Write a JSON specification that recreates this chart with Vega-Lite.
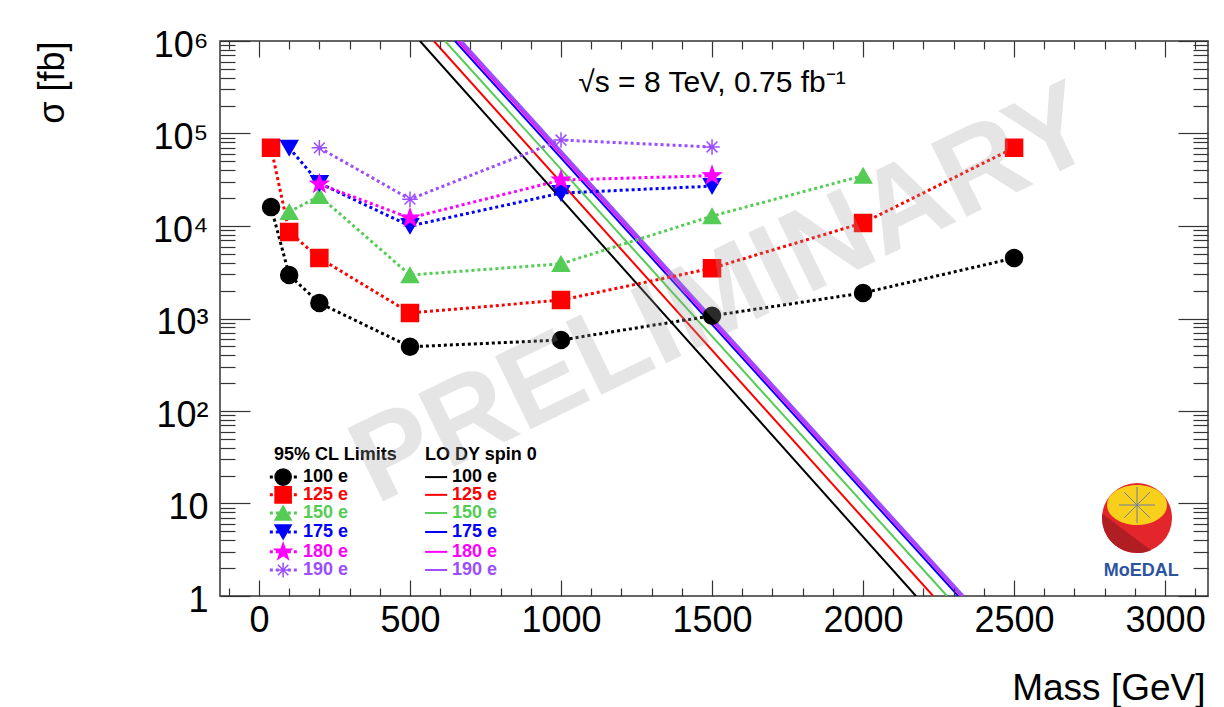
{
  "$schema": "https://vega.github.io/schema/vega-lite/v6.json",
  "width": 988,
  "height": 555,
  "autosize": {"type": "none"},
  "padding": {"left": 220, "top": 41, "right": 16, "bottom": 111},
  "background": "white",
  "config": {
    "view": {"stroke": "#333333", "strokeWidth": 1.5},
    "font": "Liberation Sans",
    "axis": {"labelFont": "Liberation Sans", "titleFont": "Liberation Sans", "tickColor": "#333333", "tickWidth": 1.2, "grid": false, "domain": false, "labelColor": "black", "titleColor": "black"}
  },
  "datasets": {
    "limits": [
      {"series": "100 e", "m": 40, "s": 16000}, {"series": "100 e", "m": 100, "s": 2950}, {"series": "100 e", "m": 200, "s": 1470}, {"series": "100 e", "m": 500, "s": 495}, {"series": "100 e", "m": 1000, "s": 585}, {"series": "100 e", "m": 1500, "s": 1070}, {"series": "100 e", "m": 2000, "s": 1890}, {"series": "100 e", "m": 2500, "s": 4500},
      {"series": "125 e", "m": 40, "s": 70000}, {"series": "125 e", "m": 100, "s": 8600}, {"series": "125 e", "m": 200, "s": 4500}, {"series": "125 e", "m": 500, "s": 1150}, {"series": "125 e", "m": 1000, "s": 1580}, {"series": "125 e", "m": 1500, "s": 3500}, {"series": "125 e", "m": 2000, "s": 10800}, {"series": "125 e", "m": 2500, "s": 70000},
      {"series": "150 e", "m": 100, "s": 14200}, {"series": "150 e", "m": 200, "s": 21100}, {"series": "150 e", "m": 500, "s": 2950}, {"series": "150 e", "m": 1000, "s": 3900}, {"series": "150 e", "m": 1500, "s": 12800}, {"series": "150 e", "m": 2000, "s": 35000},
      {"series": "175 e", "m": 100, "s": 70000}, {"series": "175 e", "m": 200, "s": 29000}, {"series": "175 e", "m": 500, "s": 10000}, {"series": "175 e", "m": 1000, "s": 22700}, {"series": "175 e", "m": 1500, "s": 27000},
      {"series": "180 e", "m": 200, "s": 28400}, {"series": "180 e", "m": 500, "s": 12200}, {"series": "180 e", "m": 1000, "s": 31400}, {"series": "180 e", "m": 1500, "s": 35000},
      {"series": "190 e", "m": 200, "s": 70000}, {"series": "190 e", "m": 500, "s": 19500}, {"series": "190 e", "m": 1000, "s": 85000}, {"series": "190 e", "m": 1500, "s": 71500}
    ],
    "dy": [
      {"series": "100 e", "m": 533, "s": 1000000}, {"series": "100 e", "m": 2175, "s": 1},
      {"series": "125 e", "m": 579, "s": 1000000}, {"series": "125 e", "m": 2232, "s": 1},
      {"series": "150 e", "m": 616, "s": 1000000}, {"series": "150 e", "m": 2278, "s": 1},
      {"series": "175 e", "m": 649, "s": 1000000}, {"series": "175 e", "m": 2315, "s": 1},
      {"series": "180 e", "m": 659, "s": 1000000}, {"series": "180 e", "m": 2325, "s": 1},
      {"series": "190 e", "m": 669, "s": 1000000}, {"series": "190 e", "m": 2331, "s": 1}
    ],
    "legend": [
      {"series": "100 e", "s": 19.3},
      {"series": "125 e", "s": 12.4},
      {"series": "150 e", "s": 7.9},
      {"series": "175 e", "s": 4.92},
      {"series": "180 e", "s": 3.0},
      {"series": "190 e", "s": 1.91}
    ]
  },
  "resolve": {"axis": {"x": "independent", "y": "independent"}},
  "layer": [
    {
      "data": {"values": [{"m": 0, "s": 1}]},
      "mark": {"type": "point", "opacity": 0},
      "encoding": {
        "x": {"field": "m", "type": "quantitative", "scale": {"domain": [-129, 3142], "nice": false, "zero": false},
          "axis": {"orient": "bottom", "values": [0, 500, 1000, 1500, 2000, 2500, 3000], "format": "d", "ticks": false, "labelFontSize": 36, "labelPadding": 7, "labelFlush": false, "labelOverlap": false, "title": "Mass [GeV]", "titleFontSize": 37, "titleFontWeight": "normal", "titleX": 985, "titleY": 92, "titleAlign": "right", "titleBaseline": "middle", "titleAngle": 0}},
        "y": {"field": "s", "type": "quantitative", "scale": {"type": "log", "domain": [1, 1000000], "nice": false},
          "axis": {"orient": "left", "values": [1, 10, 100, 1000, 10000, 100000, 1000000], "ticks": false, "labelFontSize": 36, "labelPadding": 12, "labelOffset": 4, "labelFlush": false, "labelOverlap": false, "labelExpr": "datum.value == 1 ? '1' : datum.value == 10 ? '10' : datum.value == 100 ? '10²' : datum.value == 1000 ? '10³' : datum.value == 10000 ? '10⁴' : datum.value == 100000 ? '10⁵' : '10⁶'", "title": "σ [fb]", "titleFontSize": 36, "titleFontWeight": "normal", "titleAngle": 270, "titleX": -168, "titleY": 0, "titleAlign": "right", "titleBaseline": "middle"}}
      }
    },
    {
      "data": {"values": [{"m": 0, "s": 1}]},
      "mark": {"type": "point", "opacity": 0},
      "encoding": {
        "x": {"field": "m", "type": "quantitative", "scale": {"domain": [-129, 3142], "nice": false, "zero": false},
          "axis": {"orient": "bottom", "values": [0, 500, 1000, 1500, 2000, 2500, 3000], "labels": false, "ticks": true, "tickSize": -16, "title": null, "zindex": 1}},
        "y": {"field": "s", "type": "quantitative", "scale": {"type": "log", "domain": [1, 1000000], "nice": false},
          "axis": {"orient": "left", "values": [1, 10, 100, 1000, 10000, 100000, 1000000], "labels": false, "ticks": true, "tickSize": -30, "title": null, "zindex": 1}}
      }
    },
    {
      "data": {"values": [{"m": 0, "s": 1}]},
      "mark": {"type": "point", "opacity": 0},
      "encoding": {
        "x": {"field": "m", "type": "quantitative", "scale": {"domain": [-129, 3142], "nice": false, "zero": false},
          "axis": {"orient": "bottom", "values": [-100, 100, 200, 300, 400, 600, 700, 800, 900, 1100, 1200, 1300, 1400, 1600, 1700, 1800, 1900, 2100, 2200, 2300, 2400, 2600, 2700, 2800, 2900, 3100], "labels": false, "ticks": true, "tickSize": -8, "title": null, "zindex": 1}},
        "y": {"field": "s", "type": "quantitative", "scale": {"type": "log", "domain": [1, 1000000], "nice": false},
          "axis": {"orient": "left", "values": [2, 3, 4, 5, 6, 7, 8, 9, 20, 30, 40, 50, 60, 70, 80, 90, 200, 300, 400, 500, 600, 700, 800, 900, 2000, 3000, 4000, 5000, 6000, 7000, 8000, 9000, 20000, 30000, 40000, 50000, 60000, 70000, 80000, 90000, 200000, 300000, 400000, 500000, 600000, 700000, 800000, 900000], "labels": false, "ticks": true, "tickSize": -15, "title": null, "zindex": 1}}
      }
    },
    {
      "data": {"values": [{"m": 0, "s": 1}]},
      "mark": {"type": "point", "opacity": 0},
      "encoding": {
        "x": {"field": "m", "type": "quantitative", "scale": {"domain": [-129, 3142], "nice": false, "zero": false},
          "axis": {"orient": "top", "values": [0, 500, 1000, 1500, 2000, 2500, 3000], "labels": false, "ticks": true, "tickSize": -16, "title": null, "zindex": 1}},
        "y": {"field": "s", "type": "quantitative", "scale": {"type": "log", "domain": [1, 1000000], "nice": false},
          "axis": {"orient": "right", "values": [1, 10, 100, 1000, 10000, 100000, 1000000], "labels": false, "ticks": true, "tickSize": -30, "title": null, "zindex": 1}}
      }
    },
    {
      "data": {"values": [{"m": 0, "s": 1}]},
      "mark": {"type": "point", "opacity": 0},
      "encoding": {
        "x": {"field": "m", "type": "quantitative", "scale": {"domain": [-129, 3142], "nice": false, "zero": false},
          "axis": {"orient": "top", "values": [-100, 100, 200, 300, 400, 600, 700, 800, 900, 1100, 1200, 1300, 1400, 1600, 1700, 1800, 1900, 2100, 2200, 2300, 2400, 2600, 2700, 2800, 2900, 3100], "labels": false, "ticks": true, "tickSize": -8, "title": null, "zindex": 1}},
        "y": {"field": "s", "type": "quantitative", "scale": {"type": "log", "domain": [1, 1000000], "nice": false},
          "axis": {"orient": "right", "values": [2, 3, 4, 5, 6, 7, 8, 9, 20, 30, 40, 50, 60, 70, 80, 90, 200, 300, 400, 500, 600, 700, 800, 900, 2000, 3000, 4000, 5000, 6000, 7000, 8000, 9000, 20000, 30000, 40000, 50000, 60000, 70000, 80000, 90000, 200000, 300000, 400000, 500000, 600000, 700000, 800000, 900000], "labels": false, "ticks": true, "tickSize": -15, "title": null, "zindex": 1}}
      }
    },
    {
      "data": {"name": "dy"},
      "mark": {"type": "line", "clip": true},
      "encoding": {
        "x": {"field": "m", "type": "quantitative", "scale": {"domain": [-129, 3142], "nice": false, "zero": false}, "axis": null},
        "y": {"field": "s", "type": "quantitative", "scale": {"type": "log", "domain": [1, 1000000], "nice": false}, "axis": null},
        "color": {"field": "series", "type": "nominal", "scale": {"domain": ["100 e", "125 e", "150 e", "175 e", "180 e", "190 e"], "range": ["#000000", "#ff0000", "#55cc55", "#0000ff", "#ff00ff", "#9b4dff"]}, "legend": null},
        "strokeWidth": {"condition": {"test": "datum.series === '190 e'", "value": 3.2}, "value": 2}
      }
    },
    {
      "data": {"name": "limits"},
      "mark": {"type": "line", "strokeDash": [3, 3], "strokeWidth": 3, "strokeCap": "butt"},
      "encoding": {
        "x": {"field": "m", "type": "quantitative", "scale": {"domain": [-129, 3142], "nice": false, "zero": false}, "axis": null},
        "y": {"field": "s", "type": "quantitative", "scale": {"type": "log", "domain": [1, 1000000], "nice": false}, "axis": null},
        "color": {"field": "series", "type": "nominal", "scale": {"domain": ["100 e", "125 e", "150 e", "175 e", "180 e", "190 e"], "range": ["#000000", "#ff0000", "#55cc55", "#0000ff", "#ff00ff", "#9b4dff"]}, "legend": null}
      }
    },
    {
      "data": {"name": "limits"},
      "mark": {"type": "point", "filled": true, "opacity": 1, "strokeWidth": 1.5},
      "encoding": {
        "x": {"field": "m", "type": "quantitative", "scale": {"domain": [-129, 3142], "nice": false, "zero": false}, "axis": null},
        "y": {"field": "s", "type": "quantitative", "scale": {"type": "log", "domain": [1, 1000000], "nice": false}, "axis": null},
        "color": {"field": "series", "type": "nominal", "scale": {"domain": ["100 e", "125 e", "150 e", "175 e", "180 e", "190 e"], "range": ["#000000", "#ff0000", "#55cc55", "#0000ff", "#ff00ff", "#9b4dff"]}, "legend": null},
        "stroke": {"field": "series", "type": "nominal", "scale": {"domain": ["100 e", "125 e", "150 e", "175 e", "180 e", "190 e"], "range": ["#000000", "#ff0000", "#55cc55", "#0000ff", "#ff00ff", "#9b4dff"]}, "legend": null},
        "shape": {"field": "series", "type": "nominal", "scale": {"domain": ["100 e", "125 e", "150 e", "175 e", "180 e", "190 e"], "range": ["circle", "square", "triangle-up", "triangle-down", "M0,-1L0.235,-0.324L0.951,-0.309L0.38,0.124L0.588,0.809L0,0.4L-0.588,0.809L-0.38,0.124L-0.951,-0.309L-0.235,-0.324Z", "M-1,0L1,0M0,-1L0,1M-0.7,-0.7L0.7,0.7M-0.7,0.7L0.7,-0.7"]}, "legend": null},
        "size": {"condition": [{"test": "datum.series === '180 e'", "value": 330}, {"test": "datum.series === '190 e'", "value": 240}], "value": 289}
      }
    },
    {
      "data": {"name": "legend"},
      "mark": {"type": "rule", "strokeDash": [3, 3], "strokeWidth": 3, "strokeCap": "butt"},
      "encoding": {
        "x": {"datum": 36, "type": "quantitative", "scale": {"domain": [-129, 3142], "nice": false, "zero": false}, "axis": null},
        "x2": {"datum": 126},
        "y": {"field": "s", "type": "quantitative", "scale": {"type": "log", "domain": [1, 1000000], "nice": false}, "axis": null},
        "color": {"field": "series", "type": "nominal", "scale": {"domain": ["100 e", "125 e", "150 e", "175 e", "180 e", "190 e"], "range": ["#000000", "#ff0000", "#55cc55", "#0000ff", "#ff00ff", "#9b4dff"]}, "legend": null}
      }
    },
    {
      "data": {"name": "legend"},
      "mark": {"type": "point", "filled": true, "opacity": 1, "strokeWidth": 1.5},
      "encoding": {
        "x": {"datum": 80, "type": "quantitative", "scale": {"domain": [-129, 3142], "nice": false, "zero": false}, "axis": null},
        "y": {"field": "s", "type": "quantitative", "scale": {"type": "log", "domain": [1, 1000000], "nice": false}, "axis": null},
        "color": {"field": "series", "type": "nominal", "scale": {"domain": ["100 e", "125 e", "150 e", "175 e", "180 e", "190 e"], "range": ["#000000", "#ff0000", "#55cc55", "#0000ff", "#ff00ff", "#9b4dff"]}, "legend": null},
        "stroke": {"field": "series", "type": "nominal", "scale": {"domain": ["100 e", "125 e", "150 e", "175 e", "180 e", "190 e"], "range": ["#000000", "#ff0000", "#55cc55", "#0000ff", "#ff00ff", "#9b4dff"]}, "legend": null},
        "shape": {"field": "series", "type": "nominal", "scale": {"domain": ["100 e", "125 e", "150 e", "175 e", "180 e", "190 e"], "range": ["circle", "square", "triangle-up", "triangle-down", "M0,-1L0.235,-0.324L0.951,-0.309L0.38,0.124L0.588,0.809L0,0.4L-0.588,0.809L-0.38,0.124L-0.951,-0.309L-0.235,-0.324Z", "M-1,0L1,0M0,-1L0,1M-0.7,-0.7L0.7,0.7M-0.7,0.7L0.7,-0.7"]}, "legend": null},
        "size": {"condition": [{"test": "datum.series === '180 e'", "value": 300}, {"test": "datum.series === '190 e'", "value": 220}], "value": 260}
      }
    },
    {
      "data": {"name": "legend"},
      "mark": {"type": "text", "align": "left", "baseline": "middle", "fontSize": 18, "fontWeight": "bold", "font": "Liberation Sans"},
      "encoding": {
        "x": {"datum": 146, "type": "quantitative", "scale": {"domain": [-129, 3142], "nice": false, "zero": false}, "axis": null},
        "y": {"field": "s", "type": "quantitative", "scale": {"type": "log", "domain": [1, 1000000], "nice": false}, "axis": null},
        "text": {"field": "series"},
        "color": {"field": "series", "type": "nominal", "scale": {"domain": ["100 e", "125 e", "150 e", "175 e", "180 e", "190 e"], "range": ["#000000", "#ff0000", "#55cc55", "#0000ff", "#ff00ff", "#9b4dff"]}, "legend": null}
      }
    },
    {
      "data": {"name": "legend"},
      "mark": {"type": "rule", "strokeWidth": 2},
      "encoding": {
        "x": {"datum": 550, "type": "quantitative", "scale": {"domain": [-129, 3142], "nice": false, "zero": false}, "axis": null},
        "x2": {"datum": 623},
        "y": {"field": "s", "type": "quantitative", "scale": {"type": "log", "domain": [1, 1000000], "nice": false}, "axis": null},
        "color": {"field": "series", "type": "nominal", "scale": {"domain": ["100 e", "125 e", "150 e", "175 e", "180 e", "190 e"], "range": ["#000000", "#ff0000", "#55cc55", "#0000ff", "#ff00ff", "#9b4dff"]}, "legend": null}
      }
    },
    {
      "data": {"name": "legend"},
      "mark": {"type": "text", "align": "left", "baseline": "middle", "fontSize": 18, "fontWeight": "bold", "font": "Liberation Sans"},
      "encoding": {
        "x": {"datum": 639, "type": "quantitative", "scale": {"domain": [-129, 3142], "nice": false, "zero": false}, "axis": null},
        "y": {"field": "s", "type": "quantitative", "scale": {"type": "log", "domain": [1, 1000000], "nice": false}, "axis": null},
        "text": {"field": "series"},
        "color": {"field": "series", "type": "nominal", "scale": {"domain": ["100 e", "125 e", "150 e", "175 e", "180 e", "190 e"], "range": ["#000000", "#ff0000", "#55cc55", "#0000ff", "#ff00ff", "#9b4dff"]}, "legend": null}
      }
    },
    {
      "data": {"values": [{}]},
      "mark": {"type": "text", "align": "left", "baseline": "middle", "fontSize": 18, "fontWeight": "bold", "font": "Liberation Sans", "color": "black", "text": "95% CL Limits"},
      "encoding": {
        "x": {"datum": 50, "type": "quantitative", "scale": {"domain": [-129, 3142], "nice": false, "zero": false}, "axis": null},
        "y": {"datum": 33.4, "type": "quantitative", "scale": {"type": "log", "domain": [1, 1000000], "nice": false}, "axis": null}
      }
    },
    {
      "data": {"values": [{}]},
      "mark": {"type": "text", "align": "left", "baseline": "middle", "fontSize": 18, "fontWeight": "bold", "font": "Liberation Sans", "color": "black", "text": "LO DY spin 0"},
      "encoding": {
        "x": {"datum": 550, "type": "quantitative", "scale": {"domain": [-129, 3142], "nice": false, "zero": false}, "axis": null},
        "y": {"datum": 33.4, "type": "quantitative", "scale": {"type": "log", "domain": [1, 1000000], "nice": false}, "axis": null}
      }
    },
    {
      "data": {"values": [{}]},
      "mark": {"type": "text", "align": "center", "baseline": "middle", "fontSize": 30, "font": "Liberation Sans", "color": "black", "text": "√s = 8 TeV, 0.75 fb⁻¹"},
      "encoding": {
        "x": {"datum": 1500, "type": "quantitative", "scale": {"domain": [-129, 3142], "nice": false, "zero": false}, "axis": null},
        "y": {"datum": 350000, "type": "quantitative", "scale": {"type": "log", "domain": [1, 1000000], "nice": false}, "axis": null}
      }
    },
    {
      "data": {"values": [{}]},
      "mark": {"type": "point", "shape": "circle", "filled": true, "opacity": 1, "color": "#e3262b", "size": 4900, "strokeWidth": 0},
      "encoding": {
        "x": {"datum": 2907, "type": "quantitative", "scale": {"domain": [-129, 3142], "nice": false, "zero": false}, "axis": null},
        "y": {"datum": 6.97, "type": "quantitative", "scale": {"type": "log", "domain": [1, 1000000], "nice": false}, "axis": null}
      }
    },
    {
      "data": {"values": [{}]},
      "mark": {"type": "point", "shape": "M-0.99,-0.12A1,1 0 0,0 0.4,0.92Q-0.3,0.4 -0.99,-0.12Z", "filled": true, "opacity": 1, "color": "#b01e24", "size": 4900, "strokeWidth": 0},
      "encoding": {
        "x": {"datum": 2907, "type": "quantitative", "scale": {"domain": [-129, 3142], "nice": false, "zero": false}, "axis": null},
        "y": {"datum": 6.97, "type": "quantitative", "scale": {"type": "log", "domain": [1, 1000000], "nice": false}, "axis": null}
      }
    },
    {
      "data": {"values": [{}]},
      "mark": {"type": "point", "shape": "M-1,0A1,0.667 0 1,1 1,0A1,0.667 0 1,1 -1,0Z", "filled": true, "opacity": 1, "color": "#f8cf1a", "size": 3600, "strokeWidth": 0},
      "encoding": {
        "x": {"datum": 2907, "type": "quantitative", "scale": {"domain": [-129, 3142], "nice": false, "zero": false}, "axis": null},
        "y": {"datum": 9.63, "type": "quantitative", "scale": {"type": "log", "domain": [1, 1000000], "nice": false}, "axis": null}
      }
    },
    {
      "data": {"values": [{}]},
      "mark": {"type": "point", "shape": "M-0.9,0L0.9,0M0,-0.9L0,0.9M-0.64,-0.64L0.64,0.64M-0.64,0.64L0.64,-0.64", "filled": false, "opacity": 1, "color": "#6b7fa8", "size": 1600, "strokeWidth": 1},
      "encoding": {
        "x": {"datum": 2907, "type": "quantitative", "scale": {"domain": [-129, 3142], "nice": false, "zero": false}, "axis": null},
        "y": {"datum": 9.63, "type": "quantitative", "scale": {"type": "log", "domain": [1, 1000000], "nice": false}, "axis": null}
      }
    },
    {
      "data": {"values": [{}]},
      "mark": {"type": "text", "align": "center", "baseline": "middle", "fontSize": 18, "fontWeight": "bold", "font": "Liberation Sans", "color": "#2b54a0", "text": "MoEDAL"},
      "encoding": {
        "x": {"datum": 2921, "type": "quantitative", "scale": {"domain": [-129, 3142], "nice": false, "zero": false}, "axis": null},
        "y": {"datum": 1.86, "type": "quantitative", "scale": {"type": "log", "domain": [1, 1000000], "nice": false}, "axis": null}
      }
    },
    {
      "data": {"values": [{}]},
      "mark": {"type": "text", "align": "center", "baseline": "middle", "fontSize": 118, "fontWeight": "bold", "font": "Liberation Sans", "color": "#a0a0a0", "opacity": 0.27, "angle": -26, "text": "PRELIMINARY"},
      "encoding": {
        "x": {"datum": 1540, "type": "quantitative", "scale": {"domain": [-129, 3142], "nice": false, "zero": false}, "axis": null},
        "y": {"datum": 1750, "type": "quantitative", "scale": {"type": "log", "domain": [1, 1000000], "nice": false}, "axis": null}
      }
    }
  ]
}
